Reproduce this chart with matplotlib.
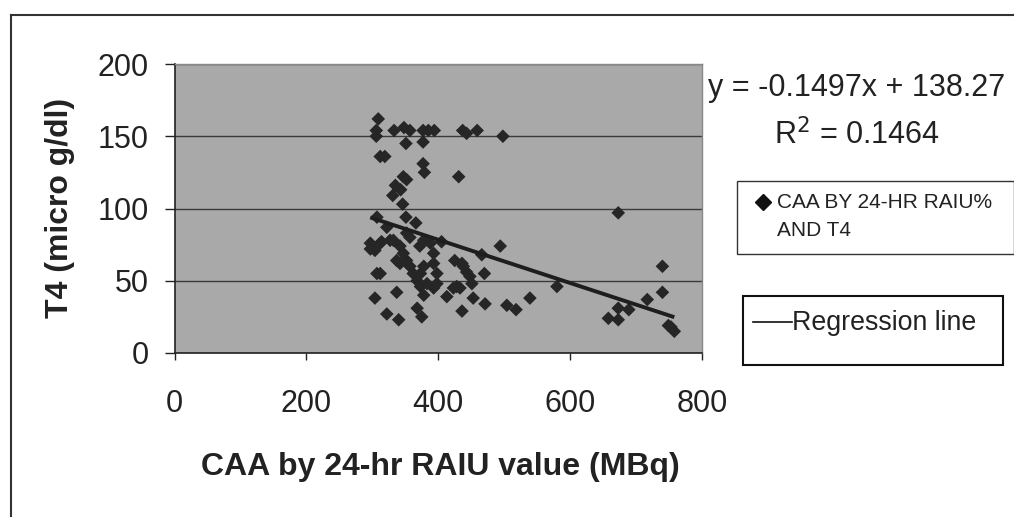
import matplotlib
matplotlib.use("Agg")
import matplotlib.pyplot as plt
import numpy as np
from matplotlib.lines import Line2D
from matplotlib.patches import Rectangle

plt.rcParams['font.family'] = ['Liberation Sans', 'DejaVu Sans']

# ---- data ----
caa_x = [309, 306, 306, 333, 348, 357, 351, 377, 385, 394, 377, 437, 443, 459, 498,
         312, 319, 377, 379, 431, 347, 352, 335, 343, 331, 346,
         307, 351, 366, 322, 673, 352,
         297, 314, 332, 327, 304, 297, 312, 342, 347, 342, 337, 357, 372, 388, 378, 405,
         393, 352, 357, 362, 373, 378, 393, 398, 368, 383, 393, 373, 378, 398,
         425, 436, 438, 443, 448, 451, 428, 423, 433, 413, 453, 466, 494, 470, 471,
         436, 504, 518, 312, 307, 304, 337, 322, 340, 368, 375,
         580, 539, 740, 740, 717, 673, 689, 658, 673, 749, 758, 753]
t4_y = [162, 154, 150, 154, 156, 154, 145, 154, 154, 154, 146, 154, 152, 154, 150,
        136, 136, 131, 125, 122, 122, 120, 116, 113, 109, 103,
        94, 94, 90, 87, 97, 83,
        76, 77, 78, 78, 71, 72, 76, 74, 69, 62, 64, 80, 74, 76, 78, 77,
        69, 64, 60, 55, 55, 60, 62, 55, 50, 48, 45, 46, 40, 48,
        64, 62, 60, 56, 53, 48, 46, 45, 45, 39, 38, 68, 74, 55, 34,
        29, 33, 30, 55, 55, 38, 42, 27, 23, 31, 25,
        46, 38, 60, 42, 37, 31, 30, 24, 23, 19, 15, 18]

slope = -0.1497
intercept = 138.27
r_squared = 0.1464

x_ticks = [0, 200, 400, 600, 800]
y_ticks = [0, 50, 100, 150, 200]

W, H = 1014, 517
fig = plt.figure(figsize=(W / 100, H / 100), dpi=100)
fig.patch.set_facecolor('white')

def fx(px):
    return px / W

def fy(py):
    return 1 - py / H

# outer chart frame (top and left edges)
fig.add_artist(Line2D([fx(10.5), fx(1014)], [fy(15), fy(15)], color='#333333', lw=1.5))
fig.add_artist(Line2D([fx(10.5), fx(10.5)], [fy(15), fy(517)], color='#333333', lw=1.5))

ax = fig.add_axes([fx(174.5), fy(353), (702 - 174.5) / W, (353 - 64) / H])
ax.set_facecolor('#a9a9a9')
ax.set_xlim(0, 800)
ax.set_ylim(0, 200)
ax.set_xticks(x_ticks)
ax.set_yticks(y_ticks)
ax.yaxis.grid(True, color='#3a3a3a', lw=1.0)
ax.set_axisbelow(True)
for s in ['top', 'right']:
    ax.spines[s].set_color('#888888')
    ax.spines[s].set_linewidth(1.0)
for s in ['left', 'bottom']:
    ax.spines[s].set_color('#222222')
    ax.spines[s].set_linewidth(1.2)
ax.tick_params(axis='y', length=7.5, width=1, color='#222222', labelsize=22, pad=11,
               labelcolor='#222222')
ax.tick_params(axis='x', length=5, width=1, color='#222222', labelsize=22, pad=21,
               labelcolor='#222222')

ax.scatter(caa_x, t4_y, marker='D', s=48, color='#262626', edgecolors='none', zorder=3,
           clip_on=False)
xl = np.array([min(caa_x), max(caa_x)])
ax.plot(xl, slope * xl + intercept, color='#1e1e1e', lw=2.8, zorder=4, solid_capstyle='butt')

fig.text(fx(440), fy(467), 'CAA by 24-hr RAIU value (MBq)', ha='center', va='center',
         fontsize=23, fontweight='bold', color='#222222')
fig.text(fx(60), fy(208), 'T4 (micro g/dl)', ha='center', va='center', rotation=90,
         fontsize=23, fontweight='bold', color='#222222')

fig.text(fx(708), fy(88), f'y = {slope}x + {intercept}', ha='left', va='center',
         fontsize=22, color='#222222')
fig.text(fx(857), fy(135), f'R$^2$ = {r_squared}', ha='center', va='center',
         fontsize=22, color='#222222')

# legend box 1
fig.add_artist(Rectangle((fx(737), fy(254)), fx(1013.5) - fx(737), fy(181) - fy(254),
                         transform=fig.transFigure, facecolor='white', edgecolor='#333333', lw=1.0))
fig.add_artist(Line2D([fx(763)], [fy(202)], marker='D', markersize=8, color='#111111', lw=0))
fig.text(fx(777), fy(202), 'CAA BY 24-HR RAIU%', ha='left', va='center', fontsize=15, color='#222222')
fig.text(fx(777), fy(231), 'AND T4', ha='left', va='center', fontsize=15, color='#222222')

# legend box 2
fig.add_artist(Rectangle((fx(742.5), fy(365)), fx(1002.5) - fx(742.5), fy(296) - fy(365),
                         transform=fig.transFigure, facecolor='white', edgecolor='#111111', lw=1.5))
fig.add_artist(Line2D([fx(753), fx(792)], [fy(322), fy(322)], color='#111111', lw=1.2))
fig.text(fx(792), fy(323), 'Regression line', ha='left', va='center', fontsize=19.3, color='#222222')

fig.savefig('out.png', dpi=100)
